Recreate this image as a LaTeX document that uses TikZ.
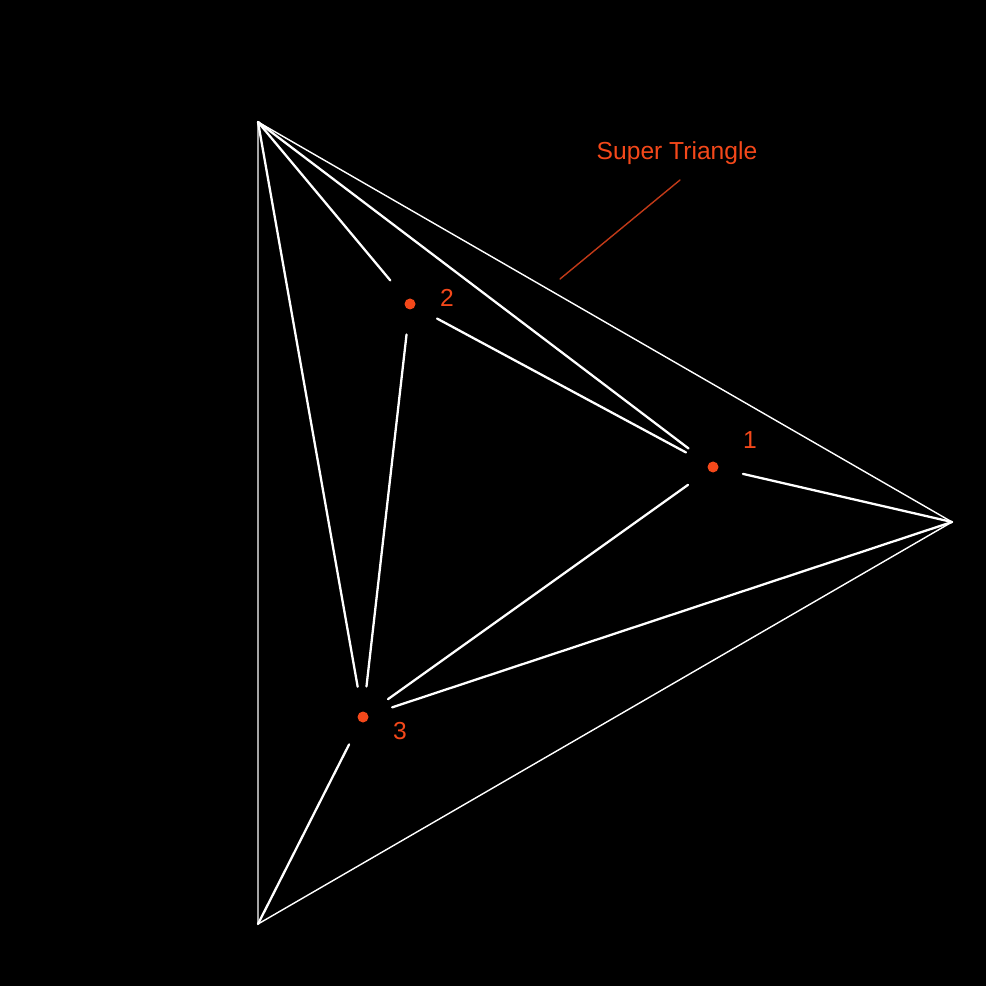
\documentclass[tikz,border=0pt]{standalone}
\usepackage{fontspec}
\setmainfont{Liberation Sans}
\usetikzlibrary{calc}
\definecolor{TriOrange}{HTML}{F4481A}
\definecolor{TriDarkOrange}{HTML}{C23A18}
\colorlet{DotFill}{TriOrange}
\colorlet{LeaderLine}{TriDarkOrange}
\tikzset{
  SitePoint/.style={
    circle, minimum size=6mm, inner sep=0pt,
    path picture={\fill[DotFill] (path picture bounding box.center) circle (0.055cm);}
  },
  SiteLabel/.style={text=TriOrange, font=\fontsize{7}{8}\selectfont, inner sep=0pt},
  HullEdge/.style={white, line width=0.4pt},
  InnerEdge/.style={white, line width=0.65pt}
}

\begin{document}
\begin{tikzpicture}[x=0.01cm, y=-0.01cm, line cap=round, line join=round]
    \fill[black] (0,0) rectangle (986,986);
    \path[use as bounding box] (0,0) rectangle (986,986);
    % super triangle corners
    \coordinate (A) at (258,122);
    \coordinate (B) at (952,522);
    \coordinate (C) at (258,924);
    % sites
    \node[SitePoint] (p1) at (713,467) {};
    \node[SitePoint] (p2) at (410,304) {};
    \node[SitePoint] (p3) at (363,717) {};
    \node[SiteLabel] (l1) at (750,440) {1};
    \node[SiteLabel] (l2) at (447,298) {2};
    \node[SiteLabel] (l3) at (400,731) {3};

    \draw[HullEdge] (A) -- (B) -- (C) -- cycle;

    \draw[InnerEdge] (A) -- (p2);
    \draw[InnerEdge] (A) -- (p1);
    \draw[InnerEdge] (A) -- (p3);
    \draw[InnerEdge] (p2) -- (p1);
    \draw[InnerEdge] (p2) -- (p3);
    \draw[InnerEdge] (p1) -- (p3);
    \draw[InnerEdge] (p1) -- (B);
    \draw[InnerEdge] (p3) -- (B);
    \draw[InnerEdge] (p3) -- (C);

    % callout
    \node[SiteLabel] (title) at (677,153) {Super Triangle};
    \coordinate (tip) at (560,279);
    \draw[LeaderLine, line width=0.4pt] (680,180) -- (tip);
\end{tikzpicture}
\end{document}
